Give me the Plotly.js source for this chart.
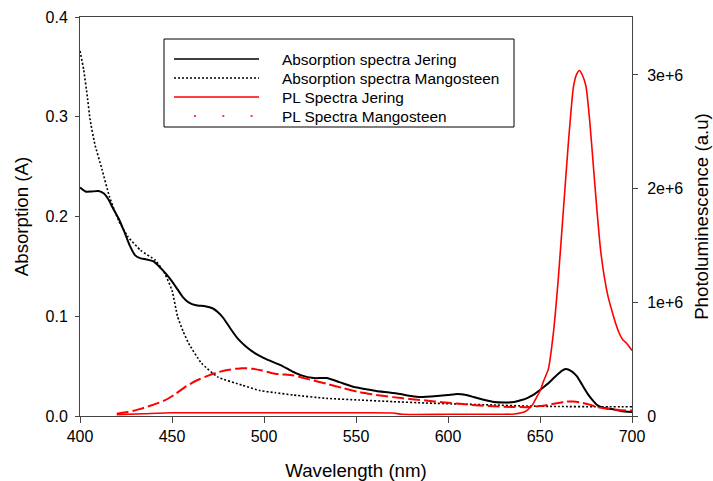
<!DOCTYPE html>
<html>
<head>
<meta charset="utf-8">
<script src="https://cdn.plot.ly/plotly-3.0.1.min.js"></script>
<style>html,body{margin:0;padding:0;background:#fff;}#chart{width:713px;height:481px;}</style>
</head>
<body>
<div id="chart"></div>
<script>
// ---- Data ----
var absJeringX = [400,403,406,410,413,415.5,418,421,424,427,430,433,436,440,444,447,450,453,456,459,463,468,472,475,478,482,486,490,495,500,505,509,515,520,527,534,541,549,555,561,568,574,580,585,594,600,605,610,614,620,625,631,636,640,643,647,650,654,658,661,664,667,670,673,676,679,681,685,689,694,700];
var absJeringY = [0.229,0.225,0.225,0.2255,0.223,0.217,0.208,0.198,0.185,0.171,0.161,0.158,0.157,0.155,0.148,0.142,0.135,0.127,0.119,0.114,0.111,0.110,0.108,0.104,0.098,0.087,0.077,0.070,0.063,0.058,0.054,0.051,0.045,0.041,0.038,0.038,0.034,0.029,0.027,0.025,0.0235,0.022,0.020,0.019,0.020,0.021,0.022,0.021,0.019,0.016,0.014,0.0135,0.014,0.016,0.018,0.022,0.026,0.032,0.039,0.044,0.047,0.045,0.040,0.031,0.022,0.015,0.011,0.008,0.007,0.005,0.004];

var absMangoX = [400,402,404,405.5,408,412,416,421,426,433,441,446,450,453,456,459,466,475,488,498,506,516,534,552,570,588,606,625,643,660,680,700];
var absMangoY = [0.366,0.347,0.320,0.297,0.273,0.247,0.220,0.196,0.180,0.166,0.156,0.143,0.126,0.100,0.085,0.073,0.053,0.039,0.031,0.0254,0.0234,0.021,0.0177,0.016,0.0144,0.013,0.012,0.011,0.010,0.0095,0.0093,0.0093];

var plJeringX = [420,435,450,500,540,570,575,600,630,636,640,643,646,648,650,652,654.5,657.2,660,662.7,665.4,668.2,670,671.4,673,675,677,679,681,683,685,687,689,691,693,695,697,698.5,700];
var plJeringY = [0.012e6,0.02e6,0.028e6,0.028e6,0.028e6,0.027e6,0.015e6,0.015e6,0.015e6,0.018e6,0.028e6,0.05e6,0.10e6,0.16e6,0.22e6,0.31e6,0.41e6,0.72e6,1.22e6,1.81e6,2.40e6,2.90e6,3.01e6,3.04e6,3.00e6,2.90e6,2.60e6,2.20e6,1.80e6,1.45e6,1.22e6,1.05e6,0.93e6,0.82e6,0.73e6,0.67e6,0.64e6,0.61e6,0.577e6];

var plMangoX = [420,426,433,440,446,452,457,463,470,475,481,488,494,499,506,516,525,534,543,552,561,570,579,588,597,606.5,615,624.6,634,643,650,655,660,664.5,668,672,677,681,686,690,695,700];
var plMangoY = [0.02e6,0.035e6,0.063e6,0.10e6,0.137e6,0.195e6,0.254e6,0.31e6,0.357e6,0.385e6,0.407e6,0.421e6,0.415e6,0.40e6,0.372e6,0.357e6,0.32e6,0.284e6,0.245e6,0.21e6,0.185e6,0.166e6,0.15e6,0.137e6,0.12e6,0.107e6,0.095e6,0.086e6,0.08e6,0.078e6,0.088e6,0.10e6,0.115e6,0.128e6,0.127e6,0.12e6,0.10e6,0.078e6,0.065e6,0.057e6,0.05e6,0.048e6];

var seriesNames = ["Absorption spectra Jering","Absorption spectra Mangosteen","PL Spectra Jering","PL Spectra Mangosteen"];
var xTickVals = [400,450,500,550,600,650,700];
var yTickVals = [0.0,0.1,0.2,0.3,0.4];
var y2TickVals = [0,1e6,2e6,3e6];
var y2TickText = ["0","1e+6","2e+6","3e+6"];
var xTitle = "Wavelength (nm)";
var yTitle = "Absorption (A)";
var y2Title = "Photoluminescence (a.u)";

// ---- Styles ----
var FONT = "Liberation Sans, Arial, sans-serif";
var AXC = "#444";
var styles = [
  {color:"#000000", width:2, dash:"solid", yaxis:"y"},
  {color:"#000000", width:1.6, dash:"2px,2px", yaxis:"y"},
  {color:"#ff0000", width:1.6, dash:"solid", yaxis:"y2"},
  {color:"#ff0000", width:2, dash:"12px,4px", yaxis:"y2"}
];
var xs = [absJeringX, absMangoX, plJeringX, plMangoX];
var ys = [absJeringY, absMangoY, plJeringY, plMangoY];

var traces = [];
for (var i = 0; i < 4; i++) {
  traces.push({
    x: xs[i], y: ys[i], name: seriesNames[i], type: "scatter", mode: "lines",
    yaxis: styles[i].yaxis,
    line: {color: styles[i].color, width: styles[i].width, dash: styles[i].dash, shape: "spline", smoothing: 0.5},
    hoverinfo: "skip", showlegend: false
  });
}

// ---- Custom legend box (paper coords from pixel layout) ----
var L = 80, R = 632, T = 17, B = 416;
function px(x){ return (x - L) / (R - L); }
function py(y){ return (B - y) / (B - T); }
var rowY = [59, 78, 97, 116];
var shapes = [{type:"rect", xref:"paper", yref:"paper", x0:px(164), x1:px(514), y0:py(127), y1:py(39), line:{color:"#000", width:1}, fillcolor:"rgba(0,0,0,0)"}];
var annotations = [];
var legendDash = ["solid", "2px,2px", "solid", "2px,26.3px"];
var legendX0 = [174, 174, 174, 194];
for (var j = 0; j < 4; j++) {
  shapes.push({type:"line", xref:"paper", yref:"paper", x0:px(legendX0[j]), x1:px(259), y0:py(rowY[j]), y1:py(rowY[j]),
    line:{color:styles[j].color, width: (j===1?1.6:1.5), dash: legendDash[j]}});
  annotations.push({xref:"paper", yref:"paper", x:px(280), y:py(rowY[j]), xanchor:"left", yanchor:"middle",
    text: seriesNames[j], showarrow:false, font:{family:FONT, size:15.4, color:"#000"}});
}

var layout = {
  width: 713, height: 481,
  margin: {l: L, r: 713 - R, t: T, b: 481 - B, pad: 0},
  paper_bgcolor: "#fff", plot_bgcolor: "#fff",
  font: {family: FONT, size: 16, color: "#000"},
  showlegend: false,
  xaxis: {
    range: [400, 700], tickvals: xTickVals, ticks: "outside", ticklen: 6, tickcolor: AXC, tickwidth: 1,
    showline: true, linecolor: AXC, linewidth: 1, mirror: true, showgrid: false, zeroline: false,
    ticklabelstandoff: 0,
    tickfont: {family: FONT, size: 16, color: "#000"},
    title: {text: xTitle, font: {family: FONT, size: 18.7, color: "#000"}, standoff: 22}
  },
  yaxis: {
    range: [0, 0.4], tickvals: yTickVals, tickformat: ".1f", ticks: "outside", ticklen: 4, tickcolor: AXC, tickwidth: 1,
    showline: true, linecolor: AXC, linewidth: 1, showgrid: false, zeroline: false,
    ticklabelstandoff: 4,
    tickfont: {family: FONT, size: 16, color: "#000"},
    title: {text: yTitle, font: {family: FONT, size: 18.7, color: "#000"}, standoff: 12}
  },
  yaxis2: {
    overlaying: "y", side: "right", range: [0, 3.51e6], tickvals: y2TickVals, ticktext: y2TickText,
    ticks: "outside", ticklen: 5, tickcolor: AXC, tickwidth: 1,
    showline: true, linecolor: AXC, linewidth: 1, showgrid: false, zeroline: false,
    ticklabelstandoff: 6,
    tickfont: {family: FONT, size: 16, color: "#000"},
    title: {text: y2Title, font: {family: FONT, size: 18.7, color: "#000"}, standoff: 12}
  },
  shapes: shapes,
  annotations: annotations
};

Plotly.newPlot("chart", traces, layout, {displayModeBar: false, staticPlot: true});
</script>
</body>
</html>
